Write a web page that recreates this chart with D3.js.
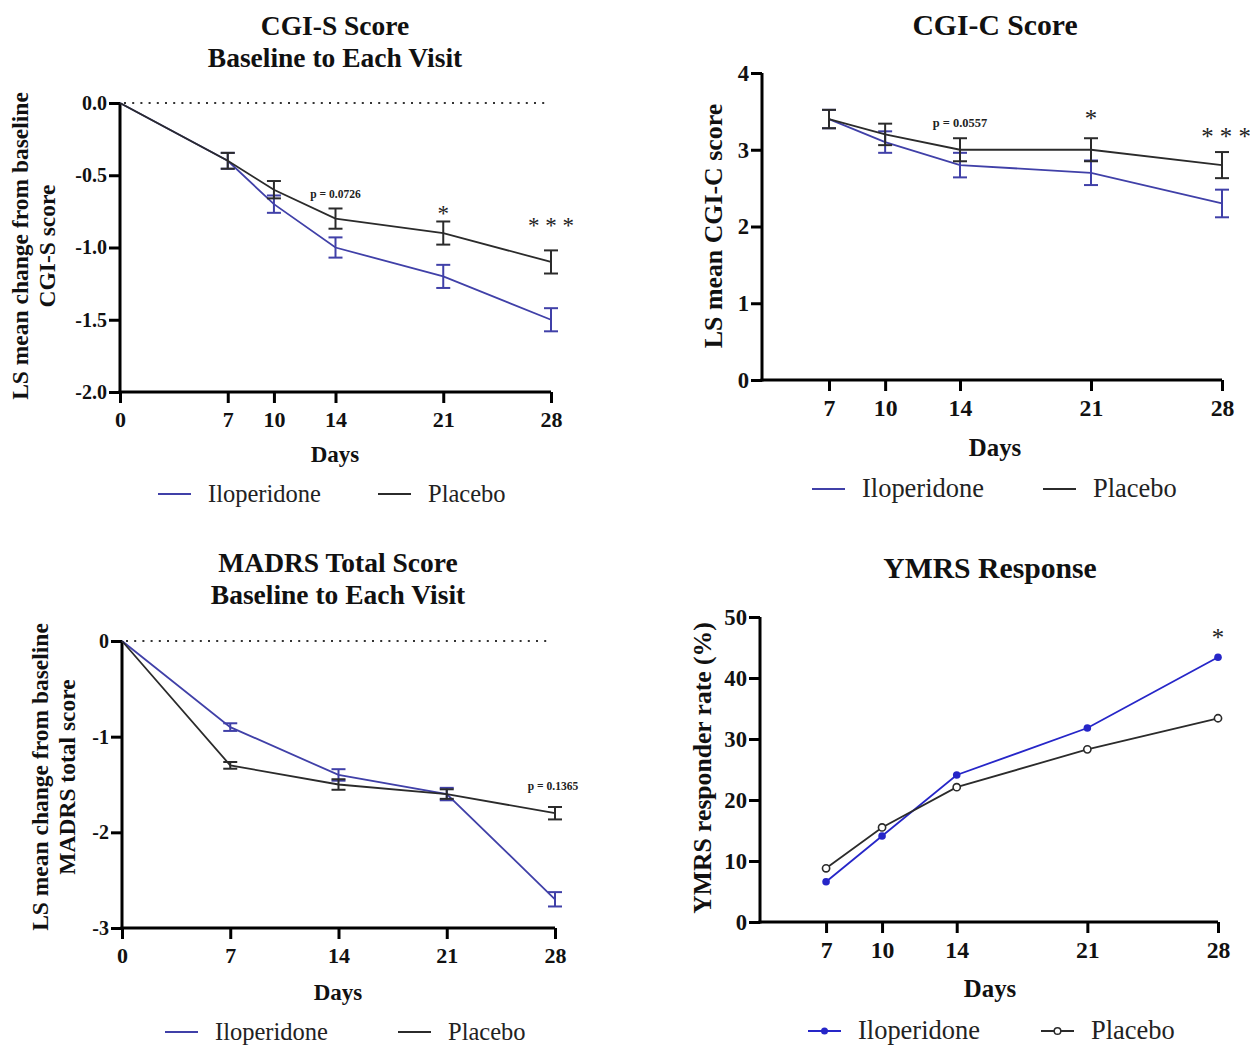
<!DOCTYPE html>
<html><head><meta charset="utf-8">
<script src="https://cdn.jsdelivr.net/npm/d3@7"></script>
<style>body{margin:0;background:#fff}svg{display:block}</style>
</head><body>
<svg id="chart" width="1250" height="1045"></svg>
<script>
// ---- Data ----
const seriesNames = ["Iloperidone", "Placebo"];

const cgisDays = [0, 7, 10, 14, 21, 28];
const cgisIlo = [0, -0.4, -0.7, -1.0, -1.2, -1.5];
const cgisIloErr = [0, 0.055, 0.06, 0.07, 0.08, 0.08];
const cgisPla = [0, -0.4, -0.6, -0.8, -0.9, -1.1];
const cgisPlaErr = [0, 0.055, 0.06, 0.07, 0.08, 0.08];
const cgisYTicks = [0, -0.5, -1.0, -1.5, -2.0];
const cgisNotes = [["p = 0.0726", 14], ["*", 21], ["* * *", 28]];

const cgicDays = [7, 10, 14, 21, 28];
const cgicIlo = [3.4, 3.1, 2.8, 2.7, 2.3];
const cgicIloErr = [0.12, 0.14, 0.16, 0.16, 0.18];
const cgicPla = [3.4, 3.2, 3.0, 3.0, 2.8];
const cgicPlaErr = [0.12, 0.14, 0.15, 0.15, 0.17];
const cgicYTicks = [0, 1, 2, 3, 4];
const cgicNotes = [["p = 0.0557", 14], ["*", 21], ["* * *", 28]];

const madrsDays = [0, 7, 14, 21, 28];
const madrsIlo = [0, -0.9, -1.4, -1.6, -2.7];
const madrsIloErr = [0, 0.04, 0.06, 0.065, 0.075];
const madrsPla = [0, -1.3, -1.5, -1.6, -1.8];
const madrsPlaErr = [0, 0.035, 0.055, 0.05, 0.065];
const madrsYTicks = [0, -1, -2, -3];
const madrsNotes = [["p = 0.1365", 28]];

const ymrsDays = [7, 10, 14, 21, 28];
const ymrsIlo = [6.6, 14.1, 24.1, 31.8, 43.4];
const ymrsPla = [8.8, 15.5, 22.1, 28.3, 33.4];
const ymrsYTicks = [0, 10, 20, 30, 40, 50];
const ymrsNotes = [["*", 28]];

// ---- Styles ----
const BLUE = "#4040a8";
const BLUE2 = "#2626c8";
const GREY = "#2b2b2b";
const FONT = "'Liberation Serif','Times New Roman',serif";

const svg = d3.select("#chart");
const hyph = f => (d => f(d).replace("\u2212", "-"));

function panel(cfg) {
  const k = cfg.fs || 1;
  const g = svg.append("g");
  const x = d3.scaleLinear().domain(cfg.xDomain).range([cfg.x0, cfg.x1]);
  const y = d3.scaleLinear().domain(cfg.yDomain).range([cfg.y1, cfg.y0]);

  // titles
  cfg.title.forEach((t, i) => {
    g.append("text").attr("x", cfg.titleX).attr("y", cfg.titleY + i * 32)
      .attr("text-anchor", "middle").attr("font-family", FONT)
      .attr("font-weight", "bold").attr("font-size", 27.5 * k).attr("fill", "#111").text(t);
  });

  // axes
  const yAxis = d3.axisLeft(y).tickValues(cfg.yTicks).tickFormat(hyph(cfg.yFmt))
    .tickSizeInner(11).tickSizeOuter(0).tickPadding(2);
  const ya = g.append("g").attr("transform", `translate(${cfg.x0},0)`).call(yAxis);
  const xAxis = d3.axisBottom(x).tickValues(cfg.xTicks).tickFormat(d3.format("d"))
    .tickSizeInner(11).tickSizeOuter(0).tickPadding(8);
  const xa = g.append("g").attr("transform", `translate(0,${cfg.y1})`).call(xAxis);
  [ya, xa].forEach(a => {
    a.select(".domain").attr("stroke", "#000").attr("stroke-width", 3);
    a.selectAll(".tick line").attr("stroke", "#000").attr("stroke-width", 3);
    a.selectAll("text").attr("font-family", FONT).attr("font-weight", "bold")
      .attr("fill", "#111");
  });
  ya.selectAll("text").attr("font-size", (cfg.yFont || 20) * k);
  xa.selectAll("text").attr("font-size", 22 * k);
  ya.select(".domain").attr("d", `M0,${cfg.y1 + 1.5}V${cfg.y0}`);
  xa.select(".domain").attr("d", `M${cfg.x0 - 1.5},0H${cfg.x1}`);

  // zero dotted line
  if (cfg.zeroLine) {
    g.append("line").attr("x1", cfg.x0 + 4).attr("x2", cfg.x1 - 5)
      .attr("y1", y(0)).attr("y2", y(0)).attr("stroke", "#333")
      .attr("stroke-width", 2.2).attr("stroke-dasharray", "2,6.2");
  }

  // y label
  cfg.yLabel.forEach((t, i) => {
    g.append("text")
      .attr("transform", `translate(${cfg.yLabelX + i * 27},${cfg.yLabelY}) rotate(-90)`)
      .attr("text-anchor", "middle").attr("font-family", FONT)
      .attr("font-weight", "bold").attr("font-size", 23.5 * (cfg.ylk || k)).attr("fill", "#111").text(t);
  });
  // x label
  g.append("text").attr("x", cfg.daysX).attr("y", cfg.daysY)
    .attr("text-anchor", "middle").attr("font-family", FONT)
    .attr("font-weight", "bold").attr("font-size", 23 * k).attr("fill", "#111").text("Days");

  const line = d3.line().x(d => x(d[0])).y(d => y(d[1]));
  cfg.series.forEach(s => {
    const pts = cfg.days.map((d, i) => [d, s.values[i], s.err ? s.err[i] : 0]);
    g.append("path").datum(pts).attr("d", line).attr("fill", "none")
      .attr("stroke", s.color).attr("stroke-width", 1.8);
    if (s.err) {
      const eb = g.append("g").attr("stroke", s.color).attr("stroke-width", 2);
      pts.filter(p => p[2] > 0).forEach(p => {
        const cx = x(p[0]), yt = y(p[1] + p[2]), yb = y(p[1] - p[2]);
        eb.append("line").attr("x1", cx).attr("x2", cx).attr("y1", yt).attr("y2", yb);
        eb.append("line").attr("x1", cx - 7).attr("x2", cx + 7).attr("y1", yt).attr("y2", yt);
        eb.append("line").attr("x1", cx - 7).attr("x2", cx + 7).attr("y1", yb).attr("y2", yb);
      });
    }
    if (s.marker) {
      g.selectAll(null).data(pts).enter().append("circle")
        .attr("cx", d => x(d[0])).attr("cy", d => y(d[1])).attr("r", s.marker === "open" ? 3.6 : 3.8)
        .attr("fill", s.marker === "open" ? "#fff" : s.color)
        .attr("stroke", s.color).attr("stroke-width", s.marker === "open" ? 1.6 : 0);
    }
  });

  // annotations
  cfg.notes.forEach(([txt, day], i) => {
    const isP = txt.startsWith("p");
    g.append("text").attr("x", x(day) + (cfg.noteDx ? cfg.noteDx[i] : 0)).attr("y", cfg.noteY[i])
      .attr("text-anchor", "middle").attr("font-family", FONT)
      .attr("font-weight", isP ? "bold" : "normal")
      .attr("font-size", (isP ? 11.5 : 23) * k).attr("fill", "#222").text(txt);
  });

  // legend
  const L = cfg.legend;
  cfg.series.forEach((s, i) => {
    const lx = L.x[i];
    g.append("line").attr("x1", lx).attr("x2", lx + 33).attr("y1", L.y).attr("y2", L.y)
      .attr("stroke", s.color).attr("stroke-width", 2);
    if (s.marker) {
      g.append("circle").attr("cx", lx + 16.5).attr("cy", L.y).attr("r", s.marker === "open" ? 3.3 : 3.5)
        .attr("fill", s.marker === "open" ? "#fff" : s.color)
        .attr("stroke", s.color).attr("stroke-width", s.marker === "open" ? 1.5 : 0);
    }
    g.append("text").attr("x", lx + 50).attr("y", L.y + 8).attr("font-family", FONT)
      .attr("font-size", 24.5 * k).attr("fill", "#222").text(seriesNames[i]);
  });
}

// CGI-S
panel({
  x0: 120, x1: 551, y0: 103, y1: 392,
  xDomain: [0, 28], yDomain: [-2, 0], yTicks: cgisYTicks, xTicks: cgisDays,
  yFmt: d3.format(".1f"), yFont: 20, zeroLine: true,
  title: ["CGI-S Score", "Baseline to Each Visit"], titleX: 335, titleY: 35,
  yLabel: ["LS mean change from baseline", "CGI-S score"], yLabelX: 28, yLabelY: 246,
  daysX: 335, daysY: 462,
  days: cgisDays,
  series: [
    { values: cgisIlo, err: cgisIloErr, color: BLUE },
    { values: cgisPla, err: cgisPlaErr, color: GREY }
  ],
  notes: cgisNotes, noteY: [198, 221, 233], noteDx: [0, 0, 0],
  legend: { x: [158, 378], y: 494 }
});

// CGI-C
panel({
  fs: 1.08, ylk: 1.1,
  x0: 762, x1: 1222, y0: 73, y1: 380,
  xDomain: [3.42, 28], yDomain: [0, 4], yTicks: cgicYTicks, xTicks: cgicDays,
  yFmt: d3.format("d"), yFont: 21, zeroLine: false,
  title: ["CGI-C Score"], titleX: 995, titleY: 35,
  yLabel: ["LS mean CGI-C score"], yLabelX: 722, yLabelY: 226,
  daysX: 995, daysY: 456,
  days: cgicDays,
  series: [
    { values: cgicIlo, err: cgicIloErr, color: BLUE },
    { values: cgicPla, err: cgicPlaErr, color: GREY }
  ],
  notes: cgicNotes, noteY: [127, 127, 145], noteDx: [0, 0, 4],
  legend: { x: [812, 1043], y: 489 }
});

// MADRS
panel({
  x0: 122, x1: 555, y0: 641, y1: 928,
  xDomain: [0, 28], yDomain: [-3, 0], yTicks: madrsYTicks, xTicks: madrsDays,
  yFmt: d3.format("d"), yFont: 20, zeroLine: true,
  title: ["MADRS Total Score", "Baseline to Each Visit"], titleX: 338, titleY: 572,
  yLabel: ["LS mean change from baseline", "MADRS total score"], yLabelX: 48, yLabelY: 777,
  daysX: 338, daysY: 1000,
  days: madrsDays,
  series: [
    { values: madrsIlo, err: madrsIloErr, color: BLUE },
    { values: madrsPla, err: madrsPlaErr, color: GREY }
  ],
  notes: madrsNotes, noteY: [790], noteDx: [-2],
  legend: { x: [165, 398], y: 1032 }
});

// YMRS
panel({
  fs: 1.08, ylk: 1.09,
  x0: 760, x1: 1218, y0: 617, y1: 922,
  xDomain: [3.46, 28], yDomain: [0, 50], yTicks: ymrsYTicks, xTicks: ymrsDays,
  yFmt: d3.format("d"), yFont: 21, zeroLine: false,
  title: ["YMRS Response"], titleX: 990, titleY: 578,
  yLabel: ["YMRS responder rate (%)"], yLabelX: 711, yLabelY: 768,
  daysX: 990, daysY: 997,
  days: ymrsDays,
  series: [
    { values: ymrsIlo, color: BLUE2, marker: "filled" },
    { values: ymrsPla, color: GREY, marker: "open" }
  ],
  notes: ymrsNotes, noteY: [646], noteDx: [0],
  legend: { x: [808, 1041], y: 1031 }
});
</script>
</body></html>
